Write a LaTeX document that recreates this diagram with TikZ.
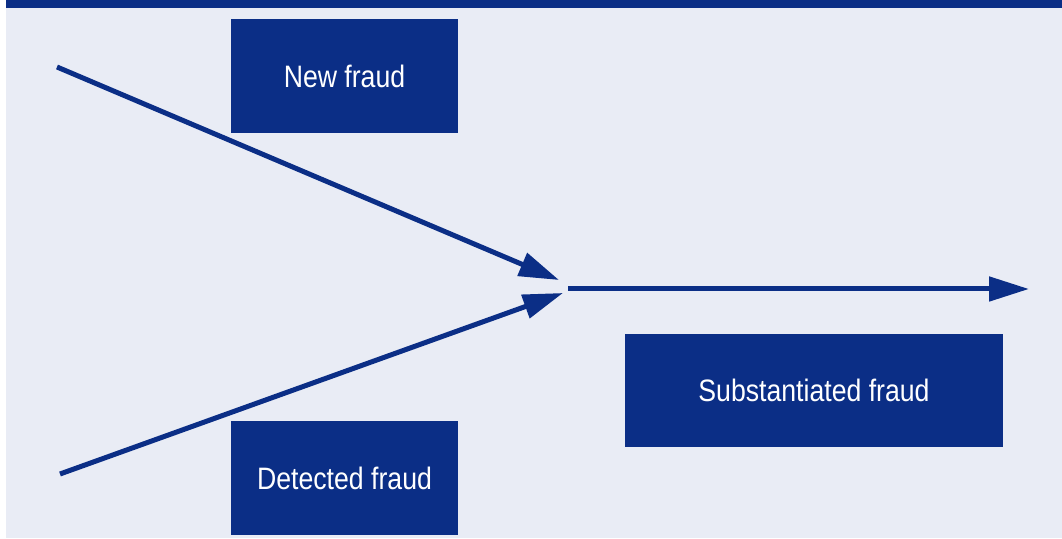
\documentclass[tikz,border=0pt]{standalone}
\usepackage{fontspec}
\setmainfont{Liberation Sans}[FakeStretch=0.86]
\usetikzlibrary{arrows.meta}
\definecolor{navy}{HTML}{0B2E86}
\definecolor{paper}{HTML}{E9ECF5}
\tikzset{
  box/.style={fill=navy, text=white, inner sep=0pt, font=\fontsize{31}{36}\selectfont},
  flow/.style={draw=navy, line width=5pt, -{Triangle[length=40pt,width=24pt]}}
}
\begin{document}
\begin{tikzpicture}[x=1pt,y=1pt]
\useasboundingbox (0,0) rectangle (1062,538);
\fill[white] (0,0) rectangle (1062,538);
\fill[paper] (6,0) rectangle (1062,530);
\fill[navy] (6,530) rectangle (1062,538);
\node[box, minimum width=227pt, minimum height=114pt] (new) at (344.5,462) {New fraud};
\node[box, minimum width=227pt, minimum height=114pt] (det) at (344.5,60) {Detected fraud};
\node[box, minimum width=378pt, minimum height=113pt] (sub) at (814,147.5) {Substantiated fraud};
\coordinate (a1) at (57,471);
\coordinate (t1) at (559,258);
\coordinate (a2) at (60,64);
\coordinate (t2) at (563,245);
\coordinate (a3) at (568,249);
\coordinate (t3) at (1029,249);
\draw[flow] (a1) -- (t1);
\draw[flow] (a2) -- (t2);
\draw[flow] (a3) -- (t3);
\end{tikzpicture}
\end{document}
